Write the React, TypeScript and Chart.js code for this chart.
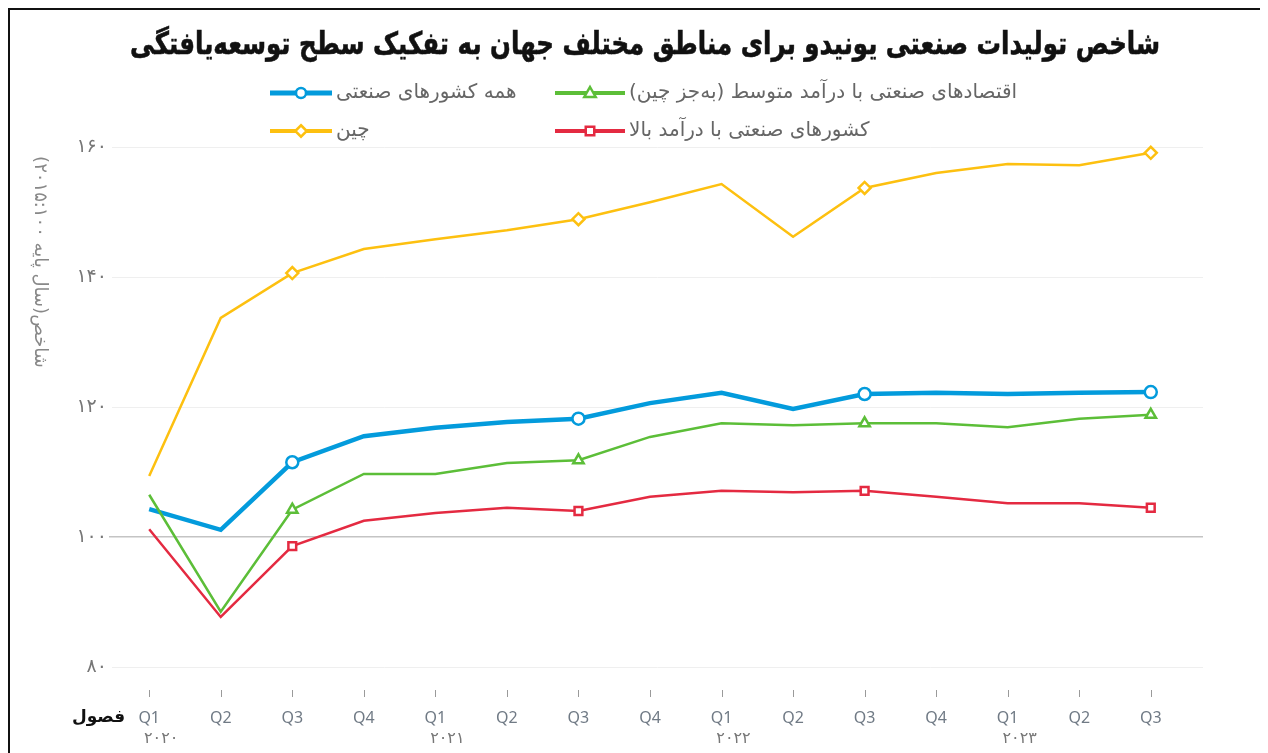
import React, { useEffect, useRef } from 'react';
import { Chart, registerables } from 'chart.js';

Chart.register(...registerables);

const chartTitle = 'شاخص تولیدات صنعتی یونیدو برای مناطق مختلف جهان به تفکیک سطح توسعه‌یافتگی';
const yAxisTitle = 'شاخص(سال پایه ۲۰۱۵:۱۰۰)';
const xAxisTitle = 'فصول';

const quarters = ['Q1', 'Q2', 'Q3', 'Q4', 'Q1', 'Q2', 'Q3', 'Q4', 'Q1', 'Q2', 'Q3', 'Q4', 'Q1', 'Q2', 'Q3'];
const years = ['۲۰۲۰', '۲۰۲۱', '۲۰۲۲', '۲۰۲۳'];
const yearStartIndex = [0, 4, 8, 12];

const yTicks = [80, 100, 120, 140, 160];
const yTickLabels = ['۸۰', '۱۰۰', '۱۲۰', '۱۴۰', '۱۶۰'];

const allIndustrial = [104.3, 101.1, 111.5, 115.5, 116.8, 117.7, 118.2, 120.6, 122.2, 119.7, 122.0, 122.2, 122.0, 122.2, 122.3];
const middleIncome = [106.5, 88.5, 104.2, 109.7, 109.7, 111.4, 111.8, 115.4, 117.5, 117.2, 117.5, 117.5, 116.9, 118.2, 118.8];
const china = [109.4, 133.7, 140.6, 144.3, 145.8, 147.2, 148.9, 151.5, 154.3, 146.2, 153.7, 156.0, 157.4, 157.2, 159.1];
const highIncome = [101.2, 87.7, 98.6, 102.5, 103.7, 104.5, 104.0, 106.2, 107.1, 106.9, 107.1, 106.2, 105.2, 105.2, 104.5];

const seriesNames = [
  'همه کشورهای صنعتی',
  'اقتصادهای صنعتی با درآمد متوسط (به‌جز چین)',
  'چین',
  'کشورهای صنعتی با درآمد بالا',
];
const seriesColors = ['#039bdc', '#5cbe38', '#fdc010', '#e42a41'];
const seriesStyles = ['circle', 'triangle', 'rectRot', 'rect'];
const seriesWidths = [4.5, 2.5, 2.5, 2.5];

const AR_FONT = '"DejaVu Sans", "Noto Sans", sans-serif';
const LAT_FONT = '"Noto Sans", "DejaVu Sans", sans-serif';

function drawMarker(ctx: CanvasRenderingContext2D, style: string, x: number, y: number, r: number, color: string, bw: number) {
  ctx.save();
  ctx.beginPath();
  if (style === 'circle') {
    ctx.arc(x, y, r, 0, Math.PI * 2);
  } else if (style === 'triangle') {
    const h = r * 1.2;
    ctx.moveTo(x, y - h);
    ctx.lineTo(x + h * 0.95, y + h * 0.65);
    ctx.lineTo(x - h * 0.95, y + h * 0.65);
    ctx.closePath();
  } else if (style === 'rectRot') {
    const d = r * 1.15;
    ctx.moveTo(x, y - d);
    ctx.lineTo(x + d, y);
    ctx.lineTo(x, y + d);
    ctx.lineTo(x - d, y);
    ctx.closePath();
  } else {
    const s = r * 0.85;
    ctx.rect(x - s, y - s, s * 2, s * 2);
  }
  ctx.fillStyle = '#ffffff';
  ctx.fill();
  ctx.lineWidth = bw;
  ctx.strokeStyle = color;
  ctx.stroke();
  ctx.restore();
}

const decorPlugin = {
  id: 'decor',
  afterDraw(chart: any) {
    const ctx: CanvasRenderingContext2D = chart.ctx;
    const xs = chart.scales.x;
    ctx.save();

    // Title: tall bold glyphs compressed horizontally to the reference width
    ctx.save();
    ctx.direction = 'rtl';
    ctx.textAlign = 'center';
    ctx.textBaseline = 'middle';
    ctx.fillStyle = '#111111';
    ctx.font = 'bold 31px ' + AR_FONT;
    const tw = ctx.measureText(chartTitle).width;
    const sx = Math.min(1, 1030 / tw);
    ctx.translate(635, 36);
    ctx.scale(sx, 1);
    ctx.fillText(chartTitle, 0, 0);
    ctx.strokeStyle = '#111111';
    ctx.lineWidth = 0.6;
    ctx.strokeText(chartTitle, 0, 0);
    ctx.restore();

    // Legend (2 columns x 2 rows)
    const legendPos = [
      { lx: 260, ly: 83 },
      { lx: 545, ly: 83 },
      { lx: 260, ly: 121 },
      { lx: 545, ly: 121 },
    ];
    const lineLen = [62, 70, 62, 70];
    seriesNames.forEach((name, i) => {
      const { lx, ly } = legendPos[i];
      const len = lineLen[i];
      ctx.save();
      ctx.beginPath();
      ctx.moveTo(lx, ly);
      ctx.lineTo(lx + len, ly);
      ctx.strokeStyle = seriesColors[i];
      ctx.lineWidth = i === 0 ? 5 : 4;
      ctx.stroke();
      ctx.restore();
      drawMarker(ctx, seriesStyles[i], lx + len / 2, ly, 5, seriesColors[i], 2.5);
      ctx.direction = 'rtl';
      ctx.textAlign = 'left';
      ctx.textBaseline = 'middle';
      ctx.fillStyle = '#666666';
      ctx.font = '20px ' + AR_FONT;
      ctx.fillText(name, lx + len + 4, ly);
    });

    // X tick marks
    ctx.strokeStyle = '#9a9a9a';
    ctx.lineWidth = 1;
    quarters.forEach((_, i) => {
      const px = Math.round(xs.getPixelForValue(i)) + 0.5;
      ctx.beginPath();
      ctx.moveTo(px, 680);
      ctx.lineTo(px, 687);
      ctx.stroke();
    });

    // Year labels
    ctx.direction = 'ltr';
    ctx.textAlign = 'center';
    ctx.textBaseline = 'middle';
    ctx.fillStyle = '#777777';
    ctx.font = '16px ' + AR_FONT;
    years.forEach((yr, k) => {
      const px = xs.getPixelForValue(yearStartIndex[k]);
      ctx.fillText(yr, px + 12, 729);
    });

    // X axis title
    ctx.direction = 'rtl';
    ctx.textAlign = 'right';
    ctx.fillStyle = '#111111';
    ctx.font = 'bold 17px ' + AR_FONT;
    ctx.fillText(xAxisTitle, xs.getPixelForValue(0) - 24, 708);

    // Y axis title (rotated clockwise)
    ctx.save();
    ctx.translate(30, 252);
    ctx.rotate(Math.PI / 2);
    ctx.direction = 'rtl';
    ctx.textAlign = 'center';
    ctx.textBaseline = 'middle';
    ctx.fillStyle = '#888888';
    ctx.font = '18px ' + AR_FONT;
    ctx.fillText(yAxisTitle, 0, 0);
    ctx.restore();

    ctx.restore();
  },
};

export default function App() {
  const canvasRef = useRef<HTMLCanvasElement | null>(null);

  useEffect(() => {
    if (!canvasRef.current) return;
    document.documentElement.style.overflow = 'hidden';
    const seriesValues = [allIndustrial, middleIncome, china, highIncome];
    const datasets = seriesValues.map((vals, i) => ({
      label: seriesNames[i],
      data: vals.map((v, idx) => ({ x: idx, y: v })),
      borderColor: seriesColors[i],
      backgroundColor: '#ffffff',
      borderWidth: seriesWidths[i],
      pointStyle: seriesStyles[i],
      pointRadius: (c: any) => (c.dataIndex % 4 === 2 ? (seriesStyles[i] === 'rect' ? 5.5 : 6) : 0),
      pointHoverRadius: 0,
      pointBorderWidth: 2.5,
      pointBackgroundColor: '#ffffff',
      pointBorderColor: seriesColors[i],
      tension: 0,
      clip: false as any,
    }));
    const ordered = [datasets[2], datasets[3], datasets[1], datasets[0]];

    const chart = new Chart(canvasRef.current, {
      type: 'line',
      data: { datasets: ordered as any },
      plugins: [decorPlugin],
      options: {
        animation: false,
        responsive: true,
        maintainAspectRatio: false,
        layout: { padding: { top: 137, right: 65, bottom: 0, left: 0 } },
        plugins: {
          legend: { display: false },
          title: { display: false },
          tooltip: { enabled: false },
        },
        scales: {
          x: {
            type: 'linear',
            min: -0.52,
            max: 14.73,
            afterBuildTicks: (scale: any) => {
              scale.ticks = quarters.map((_, i) => ({ value: i }));
            },
            afterFit: (scale: any) => {
              scale.height = 86;
            },
            grid: { display: false, drawTicks: false },
            border: { display: false },
            ticks: {
              autoSkip: false,
              maxRotation: 0,
              padding: 42,
              color: '#707a85',
              font: { family: LAT_FONT, size: 16 },
              callback: (v: any) => quarters[v] ?? '',
            },
          },
          y: {
            min: 80,
            max: 160,
            afterBuildTicks: (scale: any) => {
              scale.ticks = yTicks.map((v) => ({ value: v }));
            },
            afterFit: (scale: any) => {
              scale.width = 102;
            },
            border: { display: false },
            grid: {
              color: (c: any) => (c.tick && c.tick.value === 100 ? '#c4c4c4' : '#efefef'),
              tickColor: (c: any) => (c.tick && c.tick.value === 100 ? '#c4c4c4' : '#ffffff'),
              lineWidth: (c: any) => (c.tick && c.tick.value === 100 ? 1.5 : 1),
              drawTicks: true,
              tickLength: 3,
            },
            ticks: {
              padding: 2,
              color: '#777777',
              font: { family: AR_FONT, size: 19 },
              callback: (v: any) => {
                const k = yTicks.indexOf(Number(v));
                return k >= 0 ? yTickLabels[k] : '';
              },
            },
          },
        },
      },
    });
    return () => chart.destroy();
  }, []);

  return (
    <div style={{ borderLeft: '2px solid #111', borderTop: '2px solid #111', marginRight: -8 }}>
      <div style={{ position: 'relative', height: 743 }}>
        <canvas ref={canvasRef} />
      </div>
    </div>
  );
}
